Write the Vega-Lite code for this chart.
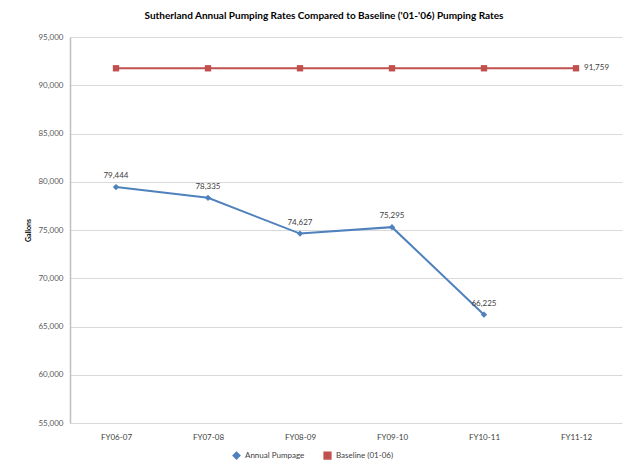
{
  "$schema": "https://vega.github.io/schema/vega-lite/v6.json",
  "width": 552,
  "height": 386,
  "autosize": {"type": "none"},
  "padding": {"left": 70, "top": 37, "right": 10, "bottom": 46},
  "background": "white",
  "config": {
    "font": "Lato",
    "view": {"stroke": null},
    "axis": {"labelFont": "Lato", "titleFont": "Lato"},
    "legend": {"labelFont": "Lato"}
  },
  "title": {
    "text": "Sutherland Annual Pumping Rates Compared to Baseline ('01-'06) Pumping Rates",
    "fontSize": 10,
    "fontWeight": "bold",
    "color": "#000000",
    "offset": 12,
    "dx": -22
  },
  "data": {
    "values": [
      {"fy": "FY06-07", "series": "Annual Pumpage", "value": 79444},
      {"fy": "FY07-08", "series": "Annual Pumpage", "value": 78335},
      {"fy": "FY08-09", "series": "Annual Pumpage", "value": 74627},
      {"fy": "FY09-10", "series": "Annual Pumpage", "value": 75295},
      {"fy": "FY10-11", "series": "Annual Pumpage", "value": 66225},
      {"fy": "FY06-07", "series": "Baseline (01-06)", "value": 91759},
      {"fy": "FY07-08", "series": "Baseline (01-06)", "value": 91759},
      {"fy": "FY08-09", "series": "Baseline (01-06)", "value": 91759},
      {"fy": "FY09-10", "series": "Baseline (01-06)", "value": 91759},
      {"fy": "FY10-11", "series": "Baseline (01-06)", "value": 91759},
      {"fy": "FY11-12", "series": "Baseline (01-06)", "value": 91759}
    ]
  },
  "encoding": {
    "x": {
      "field": "fy",
      "type": "ordinal",
      "sort": null,
      "scale": {"type": "point", "padding": 0.5},
      "axis": {
        "title": null,
        "labelAngle": 0,
        "ticks": false,
        "domain": false,
        "grid": false,
        "labelPadding": 10,
        "labelFontSize": 8,
        "labelColor": "#404040"
      }
    },
    "y": {
      "field": "value",
      "type": "quantitative",
      "scale": {"domain": [55000, 95000], "nice": false, "zero": false},
      "axis": {
        "title": "Gallons",
        "titleFontSize": 7,
        "titleFontWeight": "bold",
        "titleColor": "#000000",
        "titlePadding": 6,
        "tickCount": 8,
        "format": ",.0f",
        "labelFontSize": 8,
        "labelColor": "#595959",
        "labelPadding": 7,
        "ticks": false,
        "domainColor": "#bfbfbf",
        "domainWidth": 1.5,
        "gridColor": "#d9d9d9",
        "gridWidth": 1
      }
    },
    "color": {
      "field": "series",
      "type": "nominal",
      "scale": {"domain": ["Annual Pumpage", "Baseline (01-06)"], "range": ["#4F81BD", "#C0504D"]},
      "legend": {
        "title": null,
        "orient": "none",
        "direction": "horizontal",
        "legendX": 162,
        "legendY": 414,
        "labelFontSize": 8,
        "labelColor": "#404040",
        "symbolSize": 45,
        "columnPadding": 16
      }
    }
  },
  "layer": [
    {
      "mark": {"type": "line", "strokeWidth": 2},
      "encoding": {"detail": {"field": "series"}}
    },
    {
      "mark": {"type": "point", "filled": true, "opacity": 1},
      "encoding": {
        "shape": {
          "field": "series",
          "type": "nominal",
          "scale": {"domain": ["Annual Pumpage", "Baseline (01-06)"], "range": ["diamond", "square"]}
        },
        "size": {"value": 40}
      }
    },
    {
      "transform": [{"filter": "datum.series === 'Annual Pumpage'"}],
      "mark": {"type": "text", "dy": -11, "fontSize": 8},
      "encoding": {"text": {"field": "value", "type": "quantitative", "format": ","}, "color": {"value": "#404040"}}
    },
    {
      "transform": [{"filter": "datum.series === 'Baseline (01-06)' && datum.fy === 'FY11-12'"}],
      "mark": {"type": "text", "dx": 8, "align": "left", "fontSize": 8},
      "encoding": {"text": {"field": "value", "type": "quantitative", "format": ","}, "color": {"value": "#404040"}}
    }
  ]
}
